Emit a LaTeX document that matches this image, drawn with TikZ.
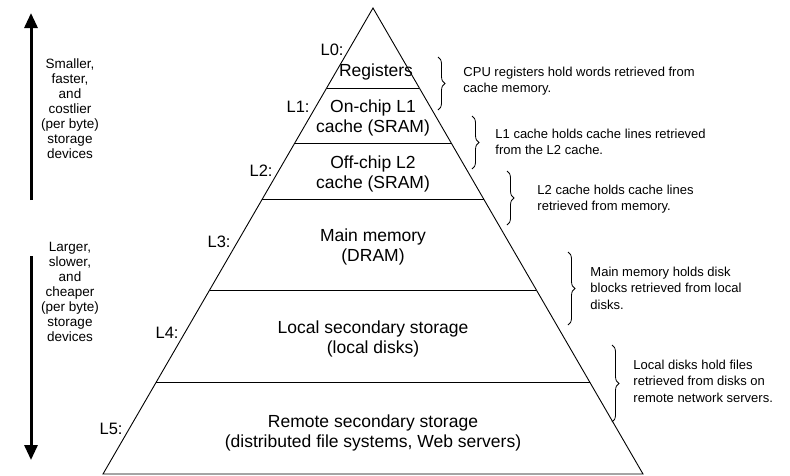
\documentclass[tikz,border=0pt]{standalone}
\usepackage{fontspec}
\setmainfont{Liberation Sans}
\usetikzlibrary{arrows.meta,decorations.pathreplacing}
\tikzstyle{level}=[align=center, inner sep=0pt, font=\fontsize{17.5}{20}\selectfont]
\tikzstyle{tag}=[anchor=east, inner sep=0pt, font=\fontsize{16.5}{20}\selectfont]
\tikzstyle{note}=[anchor=west, align=left, inner sep=0pt, font=\fontsize{13}{16.5}\selectfont]
\tikzstyle{side}=[align=center, inner sep=0pt, font=\fontsize{13.5}{15}\selectfont]
\tikzstyle{brace}=[decorate, decoration={brace, amplitude=7pt}, line width=.8pt]
\tikzstyle{trend}=[line width=3pt, -{Triangle[width=13pt,length=15pt]}]

\begin{document}
\begin{tikzpicture}[x=1pt,y=-1pt,line width=.9pt]
    \useasboundingbox (0,0) rectangle (790,475);

    % Pyramid
    \coordinate (apex) at (373,8);
    \coordinate (bl) at (103,474);
    \coordinate (br) at (643,474);
    \draw (apex) -- (bl) -- (br) -- cycle;
    \foreach \y in {88,143,199,290,382}
        \draw ({373-(\y-8)*0.5794},\y) -- ({373+(\y-8)*0.5794},\y);

    % Levels
    \draw (376,72) node[level] (reg) {Registers};
    \draw (373,118) node[level] (lone) {On-chip L1\\cache (SRAM)};
    \draw (373,174) node[level] (ltwo) {Off-chip L2\\cache (SRAM)};
    \draw (373,247) node[level] (dram) {Main memory\\(DRAM)};
    \draw (373,339) node[level] (disk) {Local secondary storage\\(local disks)};
    \draw (373,433) node[level] (remote) {Remote secondary storage\\(distributed file systems, Web servers)};

    % Level tags
    \draw (344,50) node[tag] (t0) {L0:};
    \draw (310,107) node[tag] (t1) {L1:};
    \draw (273,171) node[tag] (t2) {L2:};
    \draw (231,242) node[tag] (t3) {L3:};
    \draw (179,333) node[tag] (t4) {L4:};
    \draw (123,429) node[tag] (t5) {L5:};

    % Braces
    \coordinate (b0t) at (438,57);  \coordinate (b0b) at (438,110);
    \coordinate (b1t) at (472,116); \coordinate (b1b) at (472,169);
    \coordinate (b2t) at (507,171); \coordinate (b2b) at (507,225);
    \coordinate (b3t) at (568,252); \coordinate (b3b) at (568,325);
    \coordinate (b4t) at (612,345); \coordinate (b4b) at (612,422);
    \draw[brace] (b0t) -- (b0b);
    \draw[brace] (b1t) -- (b1b);
    \draw[brace] (b2t) -- (b2b);
    \draw[brace] (b3t) -- (b3b);
    \draw[brace] (b4t) -- (b4b);

    % Notes
    \draw (463,81) node[note] (n0) {CPU registers hold words retrieved from\\cache memory.};
    \draw (495,142) node[note] (n1) {L1 cache holds cache lines retrieved\\from the L2 cache.};
    \draw (537,199) node[note] (n2) {L2 cache holds cache lines\\retrieved from memory.};
    \draw (590,288) node[note] (n3) {Main memory holds disk\\blocks retrieved from local\\disks.};
    \draw (633,381) node[note] (n4) {Local disks hold files\\retrieved from disks on\\remote network servers.};

    % Trends
    \coordinate (upfrom) at (31,200);
    \coordinate (upto) at (31,13);
    \coordinate (downfrom) at (31,256);
    \coordinate (downto) at (31,460);
    \draw[trend] (upfrom) -- (upto);
    \draw[trend] (downfrom) -- (downto);
    \draw (70,109) node[side] (fast) {Smaller,\\faster,\\and\\costlier\\(per byte)\\storage\\devices};
    \draw (70,292) node[side] (slow) {Larger,\\slower,\\and\\cheaper\\(per byte)\\storage\\devices};

\end{tikzpicture}
\end{document}
